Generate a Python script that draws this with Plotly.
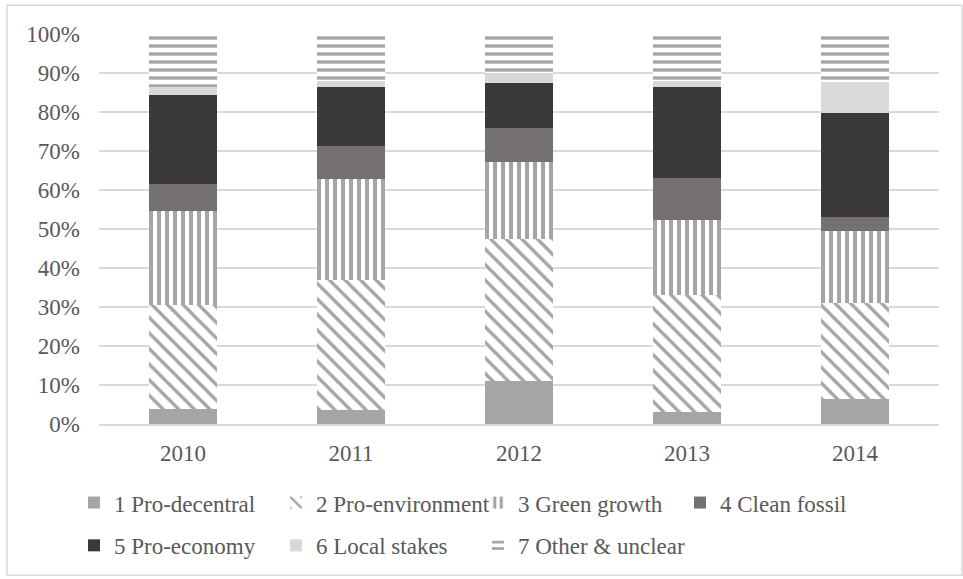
import plotly.graph_objects as go

# Share of statements per frame and year (percent of all statements)
years = ["2010", "2011", "2012", "2013", "2014"]
pro_decentral = [3.9, 3.5, 10.9, 3.2, 6.5]
pro_environment = [26.5, 33.5, 36.5, 29.8, 24.5]
green_growth = [24.3, 25.9, 19.8, 19.4, 18.4]
clean_fossil = [6.8, 8.4, 8.6, 10.6, 3.6]
pro_economy = [22.9, 15.1, 11.6, 23.3, 26.8]
local_stakes = [1.9, 1.6, 2.6, 1.7, 7.9]
other_unclear = [13.7, 12.0, 10.0, 12.0, 12.3]

y_ticks = [0, 10, 20, 30, 40, 50, 60, 70, 80, 90, 100]
y_tick_labels = ["0%", "10%", "20%", "30%", "40%", "50%", "60%", "70%", "80%", "90%", "100%"]

FONT = "Liberation Serif"
FSIZE = 23
TEXT = "#595959"
GRID = "#d9d9d9"
STRIPE = "#a5a5a5"

series = [
    ("1 Pro-decentral", pro_decentral, dict(color="#a5a5a5"), "legend"),
    ("2 Pro-environment", pro_environment,
     dict(color="white", pattern=dict(shape="\\", fgcolor=STRIPE, bgcolor="white",
                                      size=11, solidity=0.3, fillmode="replace")), "legend"),
    ("3 Green growth", green_growth,
     dict(color="white", pattern=dict(shape="|", fgcolor=STRIPE, bgcolor="white",
                                      size=8, solidity=0.5, fillmode="replace")), "legend"),
    ("4 Clean fossil", clean_fossil, dict(color="#757170"), "legend"),
    ("5 Pro-economy", pro_economy, dict(color="#3b3938"), "legend2"),
    ("6 Local stakes", local_stakes, dict(color="#d9d9d9"), "legend2"),
    ("7 Other & unclear", other_unclear,
     dict(color="white", pattern=dict(shape="-", fgcolor=STRIPE, bgcolor="white",
                                      size=8, solidity=0.42, fillmode="replace")), "legend3"),
]

fig = go.Figure()
for name, vals, marker, leg in series:
    marker = dict(marker, line=dict(width=0))
    fig.add_trace(go.Bar(x=years, y=vals, name=name, marker=marker, legend=leg,
                         hovertemplate="%{x}: %{y:.1f}%<extra>" + name + "</extra>"))

# plot area spans x 99..939, y 34..426 (pixels)
W, H = 963, 579
L, R, T, B = 99, 939, 34, 426
pw, ph = R - L, B - T

def px(x):
    return (x - L) / pw

def py(y):
    return (B - y) / ph

legend_common = dict(
    orientation="h", xanchor="left", yanchor="middle",
    font=dict(family=FONT, size=FSIZE, color=TEXT),
    entrywidth=157, entrywidthmode="pixels", itemwidth=30,
    bgcolor="rgba(0,0,0,0)", traceorder="normal",
)

fig.update_layout(
    width=W, height=H,
    margin=dict(l=L, r=W - R, t=T, b=H - B),
    barmode="stack", bargap=0.595,
    plot_bgcolor="white", paper_bgcolor="white",
    font=dict(family=FONT, size=FSIZE, color=TEXT),
    xaxis=dict(showgrid=False, showline=True, linecolor=GRID, linewidth=2,
               ticks="", ticklabelstandoff=7,
               tickfont=dict(family=FONT, size=FSIZE, color=TEXT)),
    yaxis=dict(range=[0, 100], tickvals=y_ticks, ticktext=y_tick_labels,
               showgrid=True, gridcolor=GRID, gridwidth=2, zeroline=False,
               showline=False, ticks="", ticklabelstandoff=18,
               tickfont=dict(family=FONT, size=FSIZE, color=TEXT)),
    legend=dict(legend_common, x=px(74), y=py(505)),
    legend2=dict(legend_common, x=px(74), y=py(548)),
    legend3=dict(legend_common, entrywidth=200, x=px(74 + 2 * 202), y=py(548)),
    showlegend=True,
    shapes=[dict(type="rect", xref="paper", yref="paper",
                 x0=px(7), x1=px(962), y0=py(578), y1=py(5),
                 line=dict(color=GRID, width=1.5), fillcolor="rgba(0,0,0,0)", layer="below")],
)

fig.write_html("out.html")
